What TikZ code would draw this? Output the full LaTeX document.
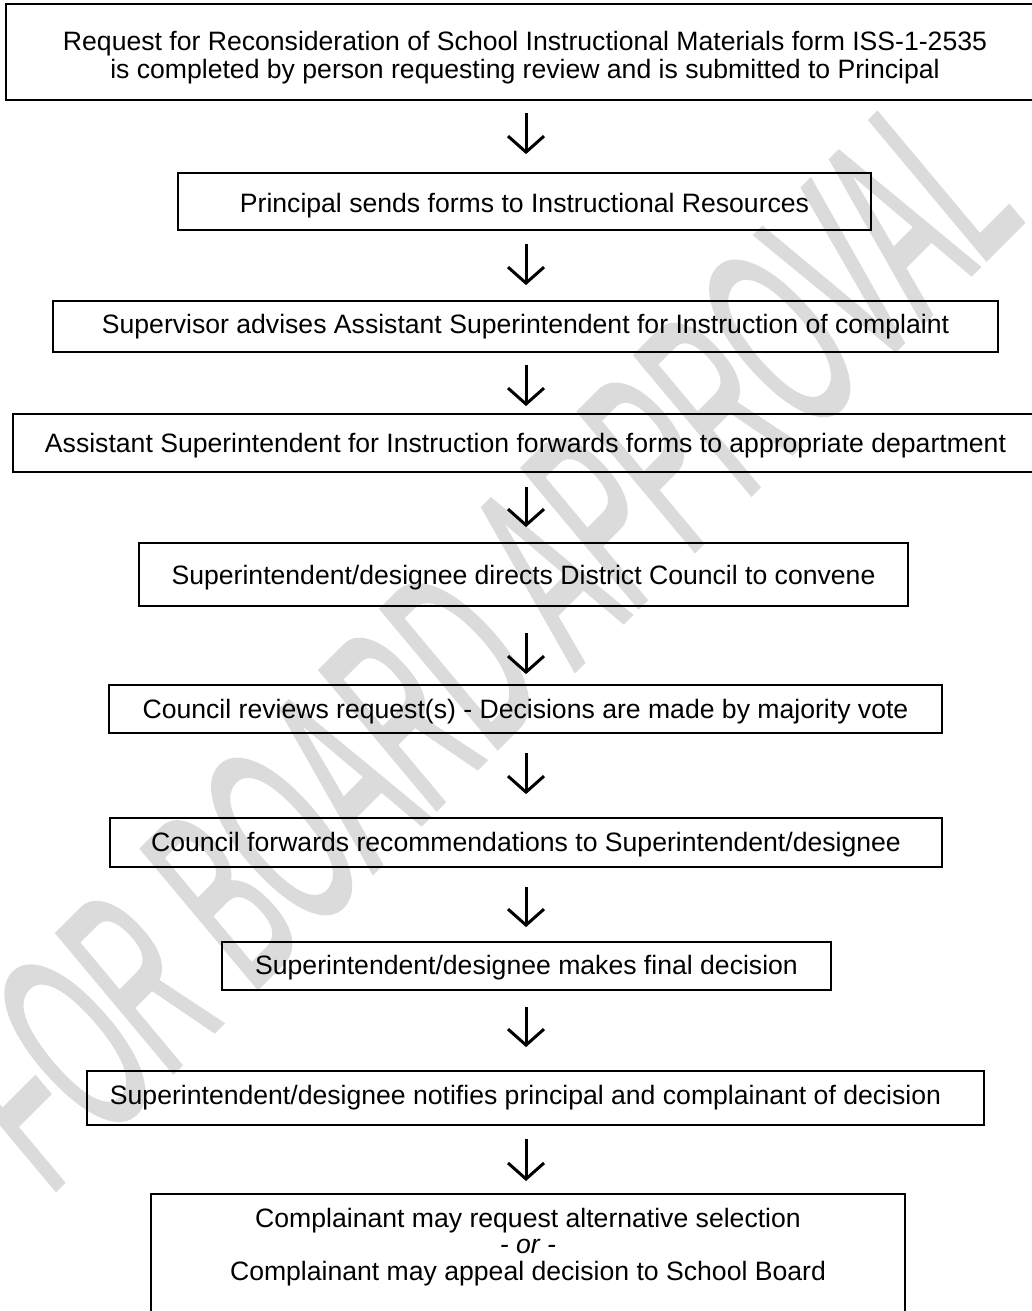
\documentclass[tikz,border=0pt]{standalone}
\usepackage{fontspec}
\setmainfont{Liberation Sans}
\newfontfamily\wmfont[FakeBold=2]{Liberation Sans}
\usetikzlibrary{arrows.meta}
\newcommand\lowr[2]{\raisebox{-#1}[\height][\depth]{#2}}
\begin{document}
\begin{tikzpicture}[x=1pt,y=-1pt,
  box/.style={draw=black, line width=1.8pt, inner sep=0pt, align=center,
    font=\fontsize{26.6}{28.5}\selectfont},
  boxline/.style={draw=black, line width=1.8pt},
  arr/.style={line width=3pt, -{Straight Barb[length=16pt,width=36pt]}},
  wm/.style={text=black!14, inner sep=0pt, font=\wmfont\fontsize{260}{260}\selectfont\itshape}]
\useasboundingbox (0,0) rectangle (1032,1311);
% watermark
\node[wm, rotate=45] (wmk) at (478,640) {\scalebox{0.46}[1]{FOR BOARD APPROVAL}};
% boxes
\node[box, minimum width=1038pt, minimum height=96pt] (a) at (525,52)
  {\lowr{7pt}{\begin{tabular}{@{}c@{}}Request for Reconsideration of School Instructional Materials form ISS-1-2535\\is completed by person requesting review and is submitted to Principal\end{tabular}}};
\node[box, minimum width=693pt, minimum height=57pt] (b) at (524.5,201.5)
  {\lowr{4pt}{Principal sends forms to Instructional Resources}};
\node[box, minimum width=945pt, minimum height=51pt] (c) at (525.5,326.5)
  {Supervisor advises Assistant Superintendent for Instruction of complaint};
\node[box, minimum width=1025pt, minimum height=58pt] (d) at (525.5,443)
  {\lowr{3pt}{Assistant Superintendent for Instruction forwards forms to appropriate department}};
\node[box, minimum width=769pt, minimum height=63pt] (e) at (523.5,574.5)
  {\lowr{3pt}{Superintendent/designee directs District Council to convene}};
\node[box, minimum width=833pt, minimum height=48pt] (f) at (525.5,709)
  {\lowr{3pt}{Council reviews request(s) - Decisions are made by majority vote}};
\node[box, minimum width=832pt, minimum height=49pt] (g) at (526,842.5)
  {\lowr{2.5pt}{Council forwards recommendations to Superintendent/designee}};
\node[box, minimum width=609pt, minimum height=48pt] (h) at (526.5,966)
  {\lowr{2pt}{Superintendent/designee makes final decision}};
\node[box, minimum width=897pt, minimum height=54pt] (i) at (535.5,1098)
  {\hspace*{-20pt}Superintendent/designee notifies principal and complainant of decision};
\node[box, draw=none, minimum width=752pt, inner ysep=13pt, anchor=north,
  font=\fontsize{26.6}{26.6}\selectfont] (j) at (528,1194)
  {Complainant may request alternative selection\\\textit{- or -}\\Complainant may appeal decision to School Board};
\draw[boxline] (j.north west) ++(0,140) -- (j.north west) -- (j.north east) -- ++(0,140);
% arrows
\coordinate (ax) at (526,0);
\draw[arr, shorten <=12pt, shorten >=18pt] (a.south -| ax) -- (b.north -| ax);
\draw[arr, shorten <=13pt, shorten >=15pt] (b.south -| ax) -- (c.north -| ax);
\draw[arr, shorten <=12pt, shorten >=7pt]  (c.south -| ax) -- (d.north -| ax);
\draw[arr, shorten <=14pt, shorten >=15pt] (d.south -| ax) -- (e.north -| ax);
\draw[arr, shorten <=26pt, shorten >=10pt] (e.south -| ax) -- (f.north -| ax);
\draw[arr, shorten <=19pt, shorten >=23pt] (f.south -| ax) -- (g.north -| ax);
\draw[arr, shorten <=19pt, shorten >=14pt] (g.south -| ax) -- (h.north -| ax);
\draw[arr, shorten <=16pt, shorten >=23pt] (h.south -| ax) -- (i.north -| ax);
\draw[arr, shorten <=13pt, shorten >=13pt] (i.south -| ax) -- (j.north -| ax);
\end{tikzpicture}
\end{document}
